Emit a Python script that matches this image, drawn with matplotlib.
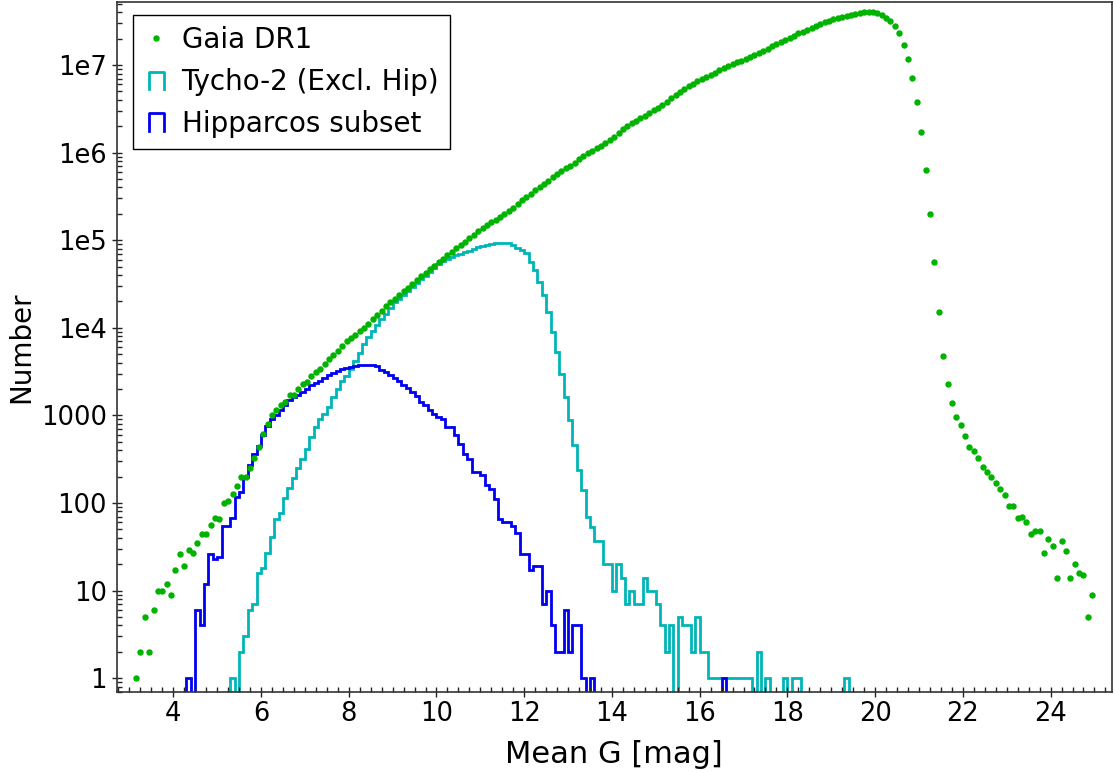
import numpy as np
import matplotlib
matplotlib.use("Agg")
import matplotlib.pyplot as plt
from matplotlib.lines import Line2D
from matplotlib.patches import StepPatch
from matplotlib.legend_handler import HandlerBase
from matplotlib.ticker import MultipleLocator, LogLocator, NullFormatter

# histogram bin width [mag]
BIN = 0.1

# Gaia DR1: counts per 0.1 mag bin, first bin centred at 3.15
gaia_first_centre = 3.15
gaia_counts = [
    1, 2, 5, 2, 6, 10, 10, 12, 9,
    17, 26, 19, 29, 27, 35, 44, 44, 56, 68,
    66, 100, 106, 128, 156, 198, 200, 253, 326, 436,
    618, 804, 1000, 1164, 1300, 1422, 1700, 1720, 2000, 2300,
    2400, 2800, 3100, 3400, 3900, 4400, 4900, 5500, 6200, 7000,
    7600, 8300, 9100, 10000, 11000, 12500, 14000, 15500, 17500, 19500,
    21500, 23500, 26000, 28500, 31500, 35000, 38500, 42000, 46500, 51000,
    56000, 61000, 67000, 74000, 81000, 88000, 96000, 105000, 115000, 126000,
    137000, 150000, 162000, 172000, 185000, 200000, 214000, 232000, 260000, 285000,
    310000, 340000, 370000, 405000, 440000, 480000, 525000, 570000, 615000, 660000,
    710000, 770000, 840000, 910000, 980000, 1.05e6, 1.12e6, 1.20e6, 1.29e6, 1.38e6,
    1.50e6, 1.66e6, 1.85e6, 2.00e6, 2.15e6, 2.30e6, 2.47e6, 2.65e6, 2.85e6, 3.05e6,
    3.25e6, 3.50e6, 3.80e6, 4.15e6, 4.50e6, 4.90e6, 5.30e6, 5.75e6, 6.15e6, 6.55e6,
    6.95e6, 7.35e6, 7.75e6, 8.2e6, 8.7e6, 9.2e6, 9.7e6, 10.2e6, 10.7e6, 11.2e6,
    11.7e6, 12.3e6, 13.0e6, 13.8e6, 14.6e6, 15.4e6, 16.3e6, 17.2e6, 18.2e6, 19.2e6,
    20.5e6, 21.7e6, 22.9e6, 24.0e6, 25.2e6, 26.5e6, 27.8e6, 29.2e6, 30.6e6, 32.0e6,
    33.3e6, 34.5e6, 35.6e6, 36.6e6, 37.4e6, 38.2e6, 39.0e6, 39.8e6, 40.5e6, 40.3e6,
    39.2e6, 37.5e6, 34.5e6, 31.5e6, 28e6, 23e6, 17e6, 11.7e6, 7.1e6, 3.8e6,
    1.7e6, 6.4e5, 2.0e5, 5.6e4, 1.5e4, 4750, 2270, 1380, 950, 778,
    587, 438, 390, 327, 258, 227, 200, 171, 144, 122,
    92, 92, 68, 70, 61, 44, 48, 48, 27, 39,
    32, 14, 37, 28, 14, 20, 16, 15, 5, 9,
]

# Tycho-2 without Hipparcos stars, first bin starts at 5.3
tycho_first_edge = 5.3
tycho_counts = [
    1, 0, 2, 3, 6, 7, 16,
    18, 27, 41, 66, 77, 115, 150, 195, 250, 320,
    410, 560, 730, 900, 1050, 1250, 1600, 2000, 2450, 2850,
    3400, 4200, 5200, 6500, 7800, 9200, 10800, 12500, 14500, 17000,
    19500, 21500, 23500, 26500, 29000, 32500, 36000, 39500, 43500, 48000,
    53000, 57500, 61000, 64500, 67500, 70000, 72500, 75500, 79000, 83000,
    86000, 89000, 91500, 93000, 93500, 93500, 92000, 88000, 81000, 77000,
    70800, 57000, 45700, 33400, 23400, 15000, 8950, 5300, 3000, 1630,
    880, 455, 237, 139, 69, 53, 37, 37, 20, 20,
    10, 20, 14, 7, 10, 7, 7, 14, 10, 10,
    7, 4, 2, 4, 0, 5, 4, 4, 2, 5,
    2, 2, 1, 1, 1, 1, 1, 1, 1, 1,
    1, 1, 0, 2, 0, 1, 0, 0, 0, 1,
    0, 1, 1, 0, 0, 0, 0, 0, 0, 0,
    0, 0, 0, 1,
]

# Hipparcos subset, first bin starts at 4.3
hip_first_edge = 4.3
hip_counts = [
    1, 0, 6, 4, 12, 26, 23,
    24, 54, 54, 67, 117, 133, 198, 269, 360, 450,
    600, 760, 920, 1000, 1150, 1300, 1480, 1620, 1720, 1860,
    2000, 2200, 2350, 2500, 2700, 2900, 3050, 3200, 3400, 3500,
    3600, 3700, 3730, 3780, 3800, 3780, 3650, 3300, 3100, 2900,
    2700, 2450, 2250, 2050, 1850, 1650, 1430, 1300, 1150, 1050,
    950, 918, 736, 736, 592, 475, 365, 320, 225, 225,
    210, 159, 145, 112, 66, 60, 60, 55, 45, 26,
    26, 17, 19, 19, 7, 10, 4, 2, 2, 6,
    2, 4, 4, 1, 0, 1, 0, 0, 0, 0,
    0, 0, 0, 0, 0, 0, 0, 0, 0, 0,
    0, 0, 0, 0, 0, 0, 0, 0, 0, 0,
    0, 0, 0, 0, 0, 1,
]

y_tick_values = [1, 10, 100, 1000, 1e4, 1e5, 1e6, 1e7]
y_tick_labels = ["1", "10", "100", "1000", "1e4", "1e5", "1e6", "1e7"]

GREEN = "#00b300"
CYAN = "#00b5b8"
BLUE = "#0000f0"
FLOOR = 0.01  # empty bins drawn below the visible range


class HandlerCap(HandlerBase):
    # legend key drawn as an open-bottom box, like the step histograms
    def create_artists(self, legend, orig_handle, xdescent, ydescent,
                       width, height, fontsize, trans):
        w = 0.6 * width
        x0 = (width - w) / 2 - xdescent
        y0 = -ydescent + 0.05 * height
        y1 = -ydescent + 0.95 * height
        line = Line2D([x0, x0, x0 + w, x0 + w], [y0, y1, y1, y0],
                      color=orig_handle.get_edgecolor(),
                      lw=orig_handle.get_linewidth(), transform=trans)
        return [line]


def edges_for(first_edge, counts):
    return first_edge + BIN * np.arange(len(counts) + 1)


def floored(counts):
    c = np.asarray(counts, dtype=float)
    return np.where(c > 0, c, FLOOR)


W, H = 1114, 772
fig = plt.figure(figsize=(W / 100, H / 100), dpi=100)
ax = fig.add_axes([116.7 / W, (H - 691.7) / H, (1112 - 116.7) / W, (691.7 - 2.3) / H])
ax.set_yscale("log")

gaia_x = gaia_first_centre + BIN * np.arange(len(gaia_counts))
gaia_line, = ax.plot(gaia_x, gaia_counts, ls="none", marker="o", ms=3.6,
                     color=GREEN, mec=GREEN, label="Gaia DR1")

tyc = ax.stairs(floored(tycho_counts), edges_for(tycho_first_edge, tycho_counts),
                baseline=FLOOR, edgecolor=CYAN, lw=2.0, label="Tycho-2 (Excl. Hip)")
hip = ax.stairs(floored(hip_counts), edges_for(hip_first_edge, hip_counts),
                baseline=FLOOR, edgecolor=BLUE, lw=2.0, label="Hipparcos subset")

ax.set_xlim(2.71, 25.4)
ax.set_ylim(0.7, 5.2e7)

ax.xaxis.set_major_locator(MultipleLocator(2))
ax.xaxis.set_minor_locator(MultipleLocator(0.25))
ax.set_yticks(y_tick_values, y_tick_labels)
ax.yaxis.set_minor_locator(LogLocator(base=10, subs=np.arange(2, 10)))
ax.yaxis.set_minor_formatter(NullFormatter())

ax.tick_params(which="major", direction="inout", length=7, width=1,
               labelsize=18.5, pad=3.5, color="#222222")
ax.tick_params(which="minor", direction="in", length=3.5, width=1, color="#222222")
for sp in ax.spines.values():
    sp.set_linewidth(1.2)
    sp.set_color("#333333")

ax.set_xlabel("Mean G [mag]", fontsize=22, labelpad=9)
ax.set_ylabel("Number", fontsize=20)

leg = ax.legend(handles=[gaia_line, tyc, hip],
                handler_map={StepPatch: HandlerCap()},
                loc="upper left", bbox_to_anchor=(0.0161, 0.9816),
                borderaxespad=0, fontsize=20, frameon=True, fancybox=False,
                framealpha=1, edgecolor="black", borderpad=0.4,
                labelspacing=0.5, handlelength=0.9, handletextpad=0.46,
                numpoints=1)
leg.get_frame().set_linewidth(1.0)

fig.savefig("out.png", dpi=100)
